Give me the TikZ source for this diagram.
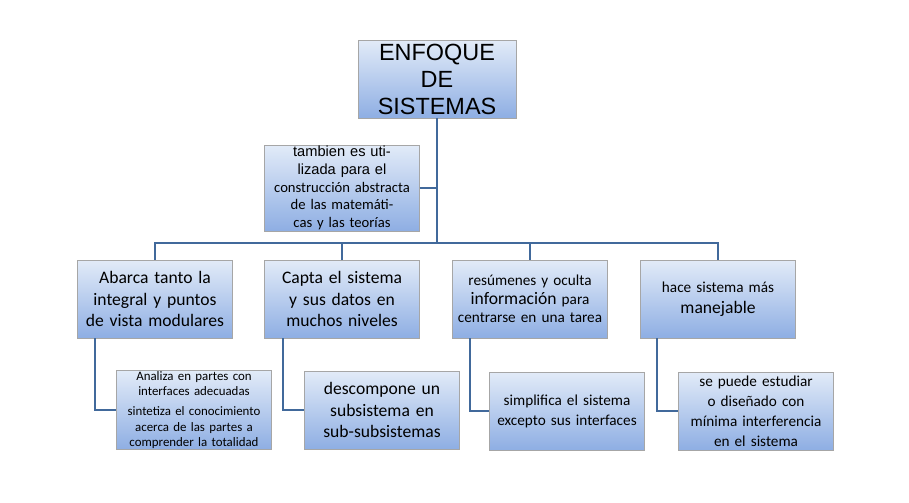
\documentclass[tikz,border=0pt]{standalone}
\usepackage{fontspec}
\setmainfont{Carlito}
\newfontfamily\arialf{Liberation Sans}
\usetikzlibrary{positioning}
\definecolor{linkblue}{HTML}{41699B}
\definecolor{boxtop}{HTML}{E2EBF8}
\definecolor{boxbot}{HTML}{8EAEE3}
\tikzset{
  box/.style = {draw = gray!70, top color = boxtop, bottom color = boxbot,
    minimum width = 155*0.03cm, minimum height = 78*0.03cm,
    text width = 145*0.03cm, align = center, inner sep = 1pt,
    font = \fontsize{15}{18}\selectfont},
  link/.style = {draw = linkblue, line width = 2.2pt}
}
\begin{document}
\begin{tikzpicture}[x = 0.03cm, y = -0.03cm]
  \useasboundingbox (0, 0) rectangle (909, 502);

  \node[box, minimum width = 158*0.03cm, text width = 150*0.03cm,
    font = \arialf\fontsize{20}{23}\selectfont] (root) at (437, 79)
    {ENFOQUE\\DE\\SISTEMAS};
  \node[box, font = \fontsize{12.5}{15}\selectfont] (side) at (342, 188)
    {{\arialf tambien es utilizada para el} construcción abstracta de las matemáticas y las teorías};

  \node[box] (abarca) at (155, 299) {Abarca tanto la integral y puntos de vista modulares};
  \node[box] (capta) at (342, 299) {Capta el sistema y sus datos en muchos niveles};
  \node[box, font = \fontsize{13}{16}\selectfont] (resum) at (530, 299)
    {resúmenes y oculta {\fontsize{15}{16}\selectfont información} para centrarse en una tarea};
  \node[box, font = \fontsize{13}{18}\selectfont] (hace) at (718, 299)
    {hace sistema más\\{\fontsize{15}{18}\selectfont manejable}};

  \node[box, font = \fontsize{11}{13}\selectfont] (analiza) at (194, 410)
    {Analiza en partes con interfaces adecuadas\\[4pt]sintetiza el conocimiento acerca de las partes a comprender la totalidad};
  \node[box] (descomp) at (382, 410) {descompone un subsistema en sub-subsistemas};
  \node[box, font = \fontsize{13}{17}\selectfont] (simpl) at (567, 411)
    {simplifica el sistema excepto sus interfaces};
  \node[box, font = \fontsize{13}{17}\selectfont] (puede) at (756, 411)
    {se puede estudiar o diseñado con mínima interferencia en el sistema};

  % tree connectors
  \coordinate (bar) at (437, 243);
  \draw[link] (root.south) -- (bar);
  \draw[link] (side.east) -- (side.east -| bar);
  \draw[link] (abarca.north) |- (bar) -| (hace.north);
  \draw[link] (capta.north) -- (capta.north |- bar);
  \draw[link] (resum.north) -- (resum.north |- bar);

  \draw[link] ([xshift = -60*0.03cm]abarca.south) |- (analiza.west);
  \draw[link] ([xshift = -59*0.03cm]capta.south) |- (descomp.west);
  \draw[link] ([xshift = -60*0.03cm]resum.south) |- (simpl.west);
  \draw[link] ([xshift = -61*0.03cm]hace.south) |- (puede.west);
\end{tikzpicture}
\end{document}
